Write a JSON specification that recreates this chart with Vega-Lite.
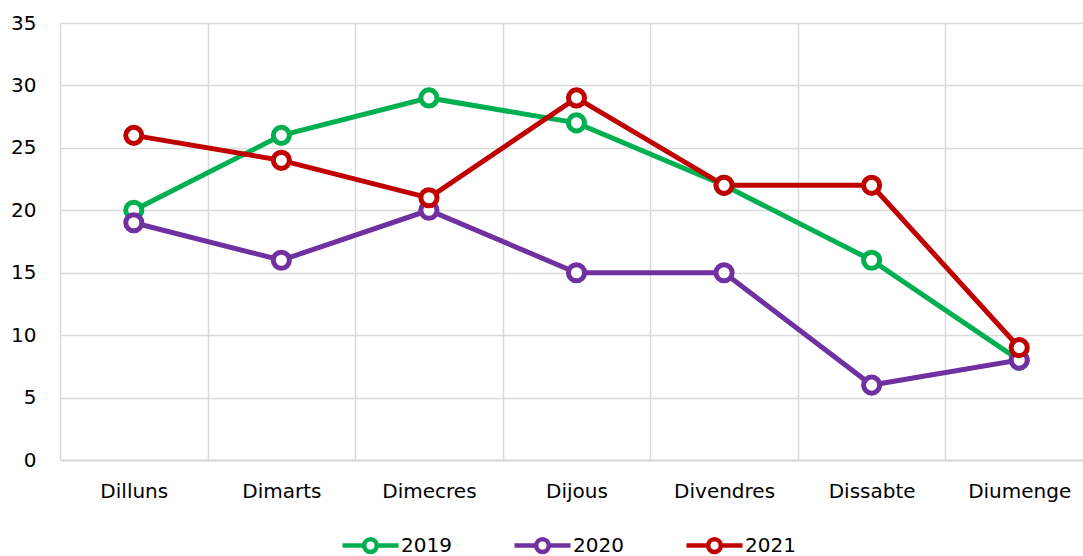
{
  "$schema": "https://vega.github.io/schema/vega-lite/v6.json",
  "width": 1033,
  "height": 437,
  "autosize": {"type": "none"},
  "padding": {"left": 60, "top": 23, "right": 0, "bottom": 96},
  "background": "white",
  "config": {"view": {"stroke": null}, "font": "DejaVu Sans"},
  "data": {"values": [
    {"day": "Dilluns", "year": "2019", "value": 20},
    {"day": "Dimarts", "year": "2019", "value": 26},
    {"day": "Dimecres", "year": "2019", "value": 29},
    {"day": "Dijous", "year": "2019", "value": 27},
    {"day": "Divendres", "year": "2019", "value": 22},
    {"day": "Dissabte", "year": "2019", "value": 16},
    {"day": "Diumenge", "year": "2019", "value": 8},
    {"day": "Dilluns", "year": "2020", "value": 19},
    {"day": "Dimarts", "year": "2020", "value": 16},
    {"day": "Dimecres", "year": "2020", "value": 20},
    {"day": "Dijous", "year": "2020", "value": 15},
    {"day": "Divendres", "year": "2020", "value": 15},
    {"day": "Dissabte", "year": "2020", "value": 6},
    {"day": "Diumenge", "year": "2020", "value": 8},
    {"day": "Dilluns", "year": "2021", "value": 26},
    {"day": "Dimarts", "year": "2021", "value": 24},
    {"day": "Dimecres", "year": "2021", "value": 21},
    {"day": "Dijous", "year": "2021", "value": 29},
    {"day": "Divendres", "year": "2021", "value": 22},
    {"day": "Dissabte", "year": "2021", "value": 22},
    {"day": "Diumenge", "year": "2021", "value": 9}
  ]},
  "mark": {"type": "line", "strokeWidth": 5, "point": {"filled": false, "fill": "white", "size": 260, "strokeWidth": 5}},
  "encoding": {
    "x": {
      "field": "day", "type": "nominal",
      "sort": ["Dilluns", "Dimarts", "Dimecres", "Dijous", "Divendres", "Dissabte", "Diumenge"],
      "scale": {"type": "band", "paddingInner": 0, "paddingOuter": 0},
      "axis": {"title": null, "labelAngle": 0, "tickBand": "extent", "grid": true, "gridColor": "#d9d9d9", "gridWidth": 1.5, "ticks": false, "tickSize": 0, "domainColor": "#d9d9d9", "domainWidth": 2, "labelFontSize": 20, "labelColor": "black", "labelPadding": 21, "labelFont": "DejaVu Sans"}
    },
    "y": {
      "field": "value", "type": "quantitative",
      "scale": {"domain": [0, 35]},
      "axis": {"title": null, "values": [0, 5, 10, 15, 20, 25, 30, 35], "grid": true, "gridColor": "#d9d9d9", "gridWidth": 1.5, "domain": false, "ticks": false, "tickSize": 0, "labelPadding": 24, "labelFontSize": 20, "labelColor": "black", "labelFont": "DejaVu Sans"}
    },
    "color": {
      "field": "year", "type": "nominal",
      "scale": {"domain": ["2019", "2020", "2021"], "range": ["#00B050", "#7030A0", "#C00000"]},
      "legend": {
        "title": null, "orient": "none", "legendX": 280, "legendY": 492, "direction": "horizontal",
        "symbolType": "M-1,0H-0.225M0.225,0H1M0.225,0A0.225,0.225,0,1,1,-0.225,0A0.225,0.225,0,1,1,0.225,0Z",
        "symbolSize": 3136, "symbolStrokeWidth": 4.5, "symbolFillColor": "white",
        "labelFontSize": 20, "labelOffset": 0, "columnPadding": 53, "padding": 0, "labelColor": "black", "labelFont": "DejaVu Sans"
      }
    }
  }
}
